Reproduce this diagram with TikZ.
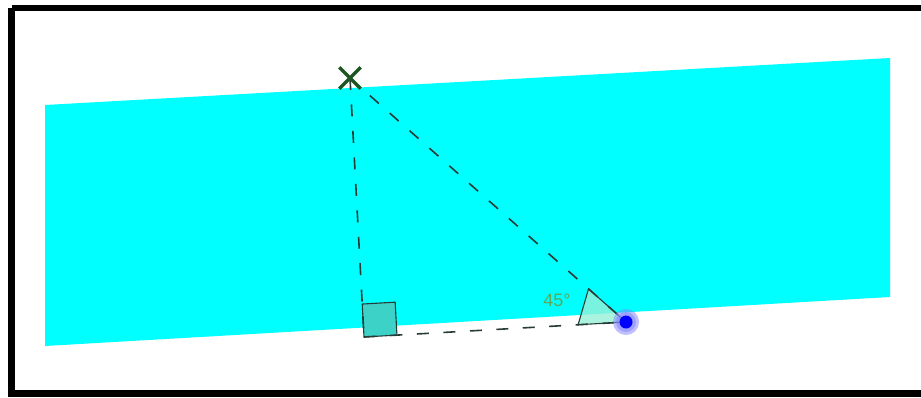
\documentclass[tikz,border=0pt]{standalone}
\usepackage{fontspec}
\setmainfont{Liberation Sans}
\usetikzlibrary{calc,shapes.misc}
\definecolor{bandcyan}{RGB}{0,255,255}
\definecolor{xgreen}{RGB}{30,85,35}
\definecolor{dashgray}{RGB}{40,60,55}
\definecolor{labelgreen}{RGB}{90,170,90}
\definecolor{sqfill}{RGB}{60,210,200}
\definecolor{angfill}{RGB}{150,240,215}
\definecolor{ptblue}{RGB}{0,0,255}
\definecolor{haloblue}{RGB}{130,130,255}
\tikzset{
  construct/.style={draw=dashgray, line width=1.6pt, dash pattern=on 12pt off 14.5pt},
  markline/.style={draw=dashgray, line width=1.1pt},
  crossmark/.style={cross out, draw=xgreen, line width=3.4pt, minimum size=18pt, inner sep=0pt},
}
\begin{document}
\begin{tikzpicture}[x=1pt,y=-1pt]
\useasboundingbox (0,0) rectangle (921,397);
\fill[white] (0,0) rectangle (921,397);
% band
\fill[bandcyan] (45,105) -- (890,58) -- (890,297) -- (45,346) -- cycle;
% frame
\draw[black, line width=6pt] (11.5,8) -- (930,8);
\draw[black, line width=7pt] (11.5,8) -- (11.5,393) -- (930,393);
% points
\coordinate (X) at (350,78);
\coordinate (F) at (364,337);
\coordinate (P) at (626,322);
% right angle square
\coordinate (S1) at ($(F)!33pt!(P)$);
\coordinate (S3) at ($(F)!33pt!(X)$);
\coordinate (S2) at ($(S1)+(S3)-(F)$);
\filldraw[fill=sqfill, markline] (F) -- (S1) -- (S2) -- (S3) -- cycle;
% angle marker
\coordinate (A1) at ($(P)!48pt!(F)$);
\coordinate (A2) at ($(P)!50pt!(X)$);
\filldraw[fill=angfill, fill opacity=0.8, markline] (P) -- (A1) -- (A2) -- cycle;
% dashed lines
\draw[construct] (X) -- (F);
\draw[construct] (X) -- (P);
\draw[construct] (F) -- (P);
% label
\node[text=labelgreen, font=\fontsize{18}{18}\selectfont, inner sep=0pt] (lab) at (557,300) {45°};
% X mark
\node[crossmark] (Xm) at (X) {};
% blue point
\fill[haloblue, opacity=0.5] (P) circle (13);
\fill[haloblue, opacity=0.5] (P) circle (10);
\node[circle, fill=ptblue, minimum size=13pt, inner sep=0pt] (Pt) at (P) {};
\end{tikzpicture}
\end{document}
